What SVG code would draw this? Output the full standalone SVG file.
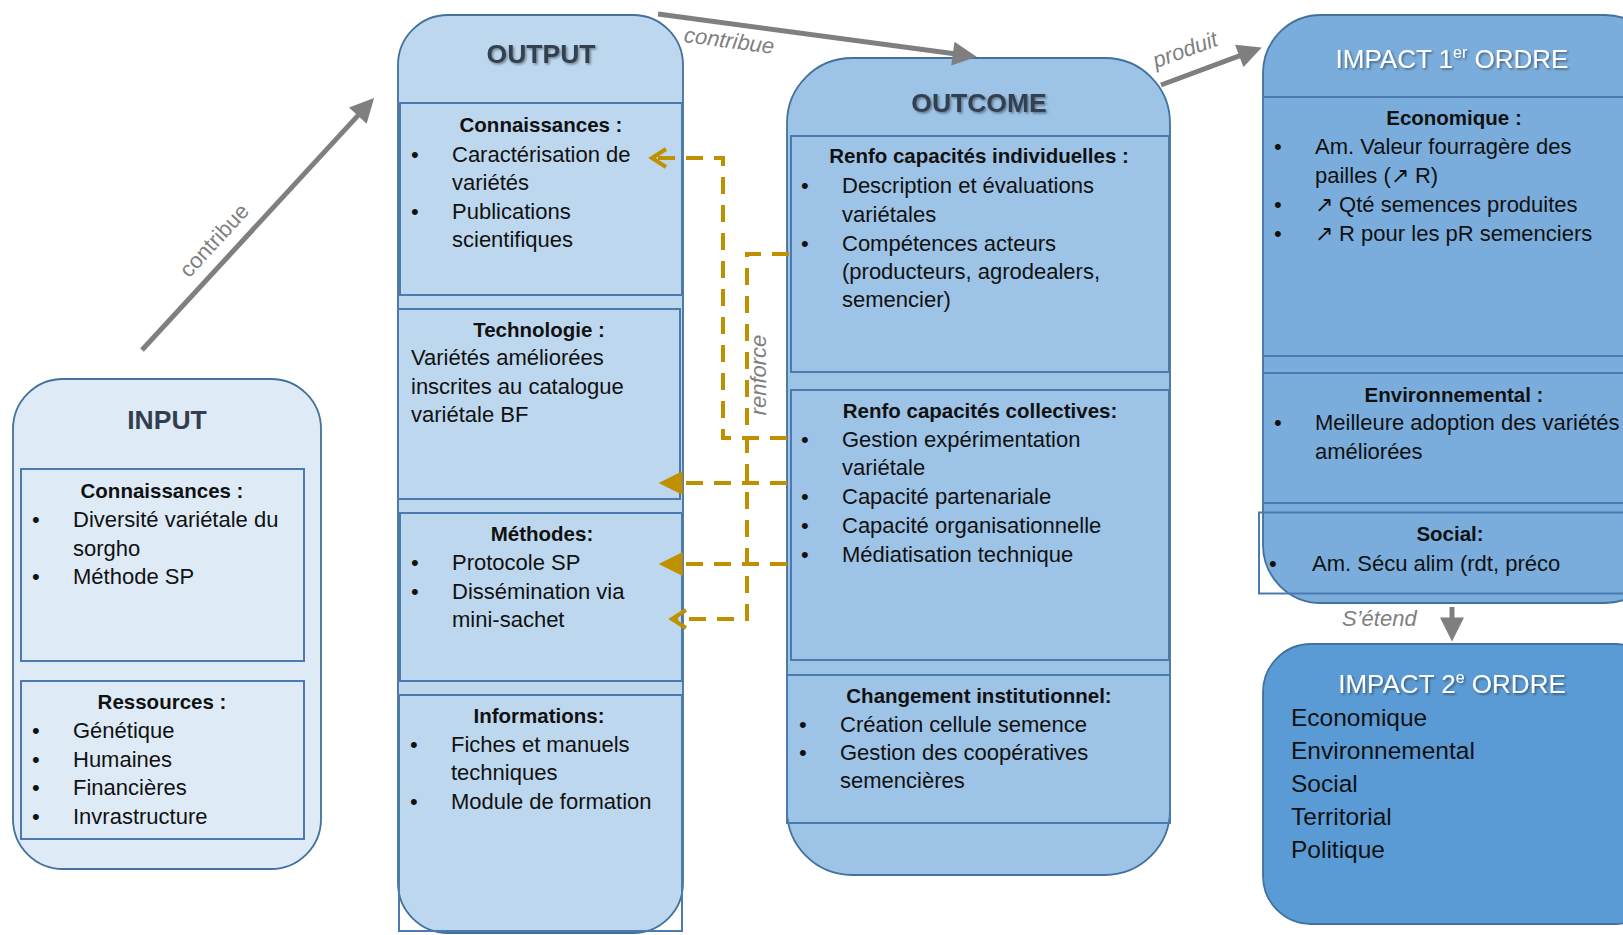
<svg xmlns="http://www.w3.org/2000/svg" width="1623" height="935" viewBox="0 0 1623 935">
<defs>
<style>
text{font-family:"Liberation Sans",Arial,sans-serif}
.t{font-size:22px;fill:#111}
.b{font-size:22px;fill:#111}
.h{font-size:20.5px;font-weight:bold;fill:#111;text-anchor:middle}
.title{font-size:26.5px;font-weight:bold;fill:#333F50;text-anchor:middle}
.sh{filter:url(#tshadow)}
.itl{font-size:26px;fill:#fff;text-anchor:middle;filter:url(#wshadow)}
.i2{font-size:24.5px;fill:#111}
.lbl{font-size:22px;fill:#7F7F7F}
.it{font-style:italic}
.box{fill:none;stroke:#4A7AB0;stroke-width:2}
.cont{stroke:#41719C;stroke-width:1.8}
.gray{fill:none;stroke:#7F7F7F;stroke-width:5;marker-end:url(#ga)}
.gold{fill:none;stroke:#BF9000;stroke-width:4;stroke-dasharray:17 11}
</style>
<filter id="tshadow" x="-10%" y="-40%" width="130%" height="180%"><feDropShadow dx="1.5" dy="1.5" stdDeviation="1.2" flood-color="#000" flood-opacity="0.4"/></filter>
<filter id="wshadow" x="-10%" y="-40%" width="130%" height="180%"><feDropShadow dx="1.5" dy="1.5" stdDeviation="1.2" flood-color="#000" flood-opacity="0.45"/></filter>
<marker id="ga" viewBox="0 0 10 10" refX="3" refY="5" markerWidth="26" markerHeight="24" markerUnits="userSpaceOnUse" orient="auto"><path d="M0,0 L10,5 L0,10 z" fill="#7F7F7F"/></marker>
<marker id="gt" viewBox="0 0 10 10" refX="3" refY="5" markerWidth="25" markerHeight="24" markerUnits="userSpaceOnUse" orient="auto"><path d="M0,0 L10,5 L0,10 z" fill="#BF9000"/></marker>
<marker id="go" viewBox="0 0 20 20" refX="18" refY="10" markerWidth="20" markerHeight="20" markerUnits="userSpaceOnUse" orient="auto" overflow="visible"><path d="M4,1 L18,10 L4,19" fill="none" stroke="#BF9000" stroke-width="4"/></marker>
</defs>
<rect width="1623" height="935" fill="#fff"/>

<g id="input">
<rect class="cont" x="13" y="379" width="308" height="490" rx="50" fill="#DEEBF7"/>
<text class="title" x="167" y="429">INPUT</text>
<rect class="box" x="21" y="469" width="283" height="192"/>
<text class="h" x="162" y="498">Connaissances :</text>
<text class="b" x="32" y="527">•</text><text class="t" x="73" y="527">Diversité variétale du</text>
<text class="t" x="73" y="555.5">sorgho</text>
<text class="b" x="32" y="584">•</text><text class="t" x="73" y="584">Méthode SP</text>
<rect class="box" x="21" y="681" width="283" height="158"/>
<text class="h" x="162" y="709">Ressources :</text>
<text class="b" x="32" y="738">•</text><text class="t" x="73" y="738">Génétique</text>
<text class="b" x="32" y="766.5">•</text><text class="t" x="73" y="766.5">Humaines</text>
<text class="b" x="32" y="795">•</text><text class="t" x="73" y="795">Financières</text>
<text class="b" x="32" y="823.5">•</text><text class="t" x="73" y="823.5">Invrastructure</text>
</g>

<g id="output">
<rect class="cont" x="398" y="15" width="285" height="918" rx="50" fill="#BDD7EE"/>
<text class="title sh" x="541" y="63">OUTPUT</text>
<rect class="box" x="400" y="103" width="282" height="192"/>
<text class="h" x="541" y="132">Connaissances :</text>
<text class="b" x="411" y="162">•</text><text class="t" x="452" y="162">Caractérisation de</text>
<text class="t" x="452" y="190">variétés</text>
<text class="b" x="411" y="219">•</text><text class="t" x="452" y="219">Publications</text>
<text class="t" x="452" y="247">scientifiques</text>
<rect class="box" x="398" y="309" width="282" height="190"/>
<text class="h" x="539" y="337">Technologie :</text>
<text class="t" x="411" y="365">Variétés améliorées</text>
<text class="t" x="411" y="393.5">inscrites au catalogue</text>
<text class="t" x="411" y="422">variétale BF</text>
<rect class="box" x="400" y="513" width="282" height="168"/>
<text class="h" x="542" y="541">Méthodes:</text>
<text class="b" x="411" y="570">•</text><text class="t" x="452" y="570">Protocole SP</text>
<text class="b" x="411" y="598.5">•</text><text class="t" x="452" y="598.5">Dissémination via</text>
<text class="t" x="452" y="627">mini-sachet</text>
<rect class="box" x="399" y="695" width="283" height="236"/>
<text class="h" x="539" y="723">Informations:</text>
<text class="b" x="410" y="752">•</text><text class="t" x="451" y="752">Fiches et manuels</text>
<text class="t" x="451" y="780">techniques</text>
<text class="b" x="410" y="808.5">•</text><text class="t" x="451" y="808.5">Module de formation</text>
</g>

<g id="outcome">
<rect class="cont" x="787" y="58" width="383" height="817" rx="65" fill="#9DC3E6"/>
<text class="title sh" x="979" y="112">OUTCOME</text>
<rect class="box" x="791" y="136" width="378" height="236"/>
<text class="h" x="979" y="163">Renfo capacités individuelles :</text>
<text class="b" x="801" y="193">•</text><text class="t" x="842" y="193">Description et évaluations</text>
<text class="t" x="842" y="221.5">variétales</text>
<text class="b" x="801" y="250.5">•</text><text class="t" x="842" y="250.5">Compétences acteurs</text>
<text class="t" x="842" y="279">(producteurs, agrodealers,</text>
<text class="t" x="842" y="307">semencier)</text>
<rect class="box" x="791" y="390" width="378" height="270"/>
<text class="h" x="980" y="418">Renfo capacités collectives:</text>
<text class="b" x="801" y="447">•</text><text class="t" x="842" y="447">Gestion expérimentation</text>
<text class="t" x="842" y="475">variétale</text>
<text class="b" x="801" y="504">•</text><text class="t" x="842" y="504">Capacité partenariale</text>
<text class="b" x="801" y="533">•</text><text class="t" x="842" y="533">Capacité organisationnelle</text>
<text class="b" x="801" y="562">•</text><text class="t" x="842" y="562">Médiatisation technique</text>
<rect class="box" x="787" y="675" width="383" height="148"/>
<text class="h" x="979" y="703">Changement institutionnel:</text>
<text class="b" x="799" y="732">•</text><text class="t" x="840" y="732">Création cellule semence</text>
<text class="b" x="799" y="760">•</text><text class="t" x="840" y="760">Gestion des coopératives</text>
<text class="t" x="840" y="788">semencières</text>
</g>

<g id="impact1">
<rect class="cont" x="1263" y="15" width="400" height="588" rx="58" fill="#7AADDC"/>
<text class="itl" x="1452" y="68">IMPACT 1<tspan font-size="16" dy="-10">er</tspan><tspan dy="10"> ORDRE</tspan></text>
<rect class="box" x="1263" y="97" width="420" height="259"/>
<text class="h" x="1454" y="125">Economique :</text>
<text class="b" x="1274" y="154">•</text><text class="t" x="1315" y="154">Am. Valeur fourragère des</text>
<text class="t" x="1315" y="183">pailles (↗ R)</text>
<text class="b" x="1274" y="212">•</text><text class="t" x="1315" y="212">↗ Qté semences produites</text>
<text class="b" x="1274" y="241">•</text><text class="t" x="1315" y="241">↗ R pour les pR semenciers</text>
<rect class="box" x="1263" y="373" width="420" height="130"/>
<text class="h" x="1454" y="402">Environnemental :</text>
<text class="b" x="1274" y="430">•</text><text class="t" x="1315" y="430">Meilleure adoption des variétés</text>
<text class="t" x="1315" y="458.5">améliorées</text>
<rect class="box" x="1259" y="512.5" width="420" height="81"/>
<text class="h" x="1450" y="541">Social:</text>
<text class="b" x="1269" y="570.5">•</text><text class="t" x="1312" y="570.5">Am. Sécu alim (rdt, préco</text>
</g>

<g id="impact2">
<rect class="cont" x="1263" y="644" width="400" height="280" rx="48" fill="#5B9BD5"/>
<text class="itl" x="1452" y="693">IMPACT 2<tspan font-size="16" dy="-10">e</tspan><tspan dy="10"> ORDRE</tspan></text>
<text class="i2" x="1291" y="726">Economique</text>
<text class="i2" x="1291" y="759">Environnemental</text>
<text class="i2" x="1291" y="792">Social</text>
<text class="i2" x="1291" y="825">Territorial</text>
<text class="i2" x="1291" y="858">Politique</text>
</g>

<g id="connectors">
<line class="gray" x1="142" y1="350" x2="362.7" y2="110.4"/>
<text class="lbl" transform="translate(216,242) rotate(-47.4)" text-anchor="middle" y="5">contribue</text>
<line class="gray" x1="658" y1="14" x2="960" y2="54.6"/>
<text class="lbl it" transform="translate(729,42) rotate(7.7)" text-anchor="middle" y="6">contribue</text>
<line class="gray" x1="1161" y1="85" x2="1246" y2="53.4"/>
<text class="lbl it" transform="translate(1186,52) rotate(-20)" text-anchor="middle" y="5">produit</text>
<line class="gray" x1="1452" y1="607" x2="1452" y2="624.8"/>
<text class="lbl it" x="1342" y="626" font-size="21">S’étend</text>
<path class="gold" d="M787,438 H723 V158 H652" marker-end="url(#go)"/>
<path class="gold" d="M789,254 H747 V619 H672" marker-end="url(#go)"/>
<path class="gold" d="M787,483 H675.5" marker-end="url(#gt)"/>
<path class="gold" d="M787,564 H675.5" marker-end="url(#gt)"/>
<text class="lbl it" transform="translate(766,375) rotate(-90)" text-anchor="middle" font-size="21">renforce</text>
</g>
</svg>
